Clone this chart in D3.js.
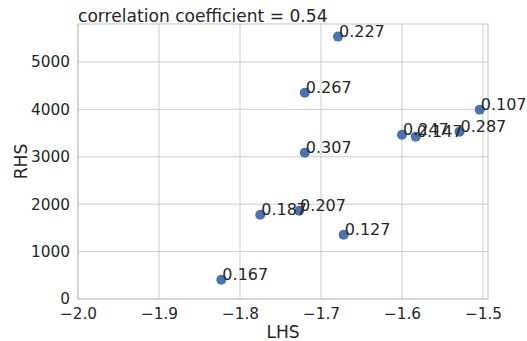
<!DOCTYPE html>
<html><head><meta charset="utf-8">
<script src="https://cdn.jsdelivr.net/npm/d3@7"></script>
<style>body{margin:0;background:#fff}svg{display:block}</style>
</head><body>
<script>
const lhs = [-1.679, -1.720, -1.720, -1.775, -1.727, -1.672, -1.823, -1.600, -1.583, -1.529, -1.504];
const rhs = [5534, 4352, 3087, 1778, 1863, 1356, 407, 3466, 3424, 3530, 3994];
const labels = ["0.227","0.267","0.307","0.187","0.207","0.127","0.167","0.247","0.147","0.287","0.107"];
const xTicks = [-2.0, -1.9, -1.8, -1.7, -1.6, -1.5];
const yTicks = [0, 1000, 2000, 3000, 4000, 5000];
const title = "correlation coefficient = 0.54";

const W = 527, H = 341;
const m = {left: 78, right: 39, top: 24, bottom: 42};
const svg = d3.select("body").append("svg").attr("width", W).attr("height", H);
const font = "DejaVu Sans";
const tc = "#262626";

const x = d3.scaleLinear().domain([-2.0, -1.4938]).range([m.left, W - m.right]);
const y = d3.scaleLinear().domain([0, 5800]).range([H - m.bottom, m.top]);

const g = svg.append("g");
// grid
g.selectAll(".gx").data(xTicks).join("line")
  .attr("x1", d => x(d)).attr("x2", d => x(d))
  .attr("y1", m.top).attr("y2", H - m.bottom)
  .attr("stroke", "#cccccc").attr("stroke-width", 1);
g.selectAll(".gy").data(yTicks).join("line")
  .attr("y1", d => y(d)).attr("y2", d => y(d))
  .attr("x1", m.left).attr("x2", W - m.right)
  .attr("stroke", "#cccccc").attr("stroke-width", 1);
// frame
g.append("rect").attr("x", m.left).attr("y", m.top)
  .attr("width", W - m.left - m.right).attr("height", H - m.top - m.bottom)
  .attr("fill", "none").attr("stroke", "#cccccc").attr("stroke-width", 1.2);

// axes
const xAxis = d3.axisBottom(x).tickValues(xTicks).tickSize(0).tickPadding(9)
  .tickFormat(d => d3.format(".1f")(d).replace("-", "\u2212"));
const ax = svg.append("g").attr("transform", `translate(0,${H - m.bottom})`).call(xAxis);
ax.select(".domain").remove();
ax.selectAll("text").attr("font-family", font).attr("font-size", 15.3).attr("fill", tc);

const yAxis = d3.axisLeft(y).tickValues(yTicks).tickSize(0).tickPadding(8).tickFormat(d3.format("d"));
const ay = svg.append("g").attr("transform", `translate(${m.left},0)`).call(yAxis);
ay.select(".domain").remove();
ay.selectAll("text").attr("font-family", font).attr("font-size", 15.3).attr("fill", tc);

// points
const data = lhs.map((v, i) => ({x: v, y: rhs[i], l: labels[i]}));
svg.selectAll(".pt").data(data).join("circle")
  .attr("cx", d => x(d.x)).attr("cy", d => y(d.y)).attr("r", 5)
  .attr("fill", "#4c72b0");
svg.selectAll(".lb").data(data).join("text")
  .attr("x", d => x(d.x) + 1).attr("y", d => y(d.y))
  .attr("font-family", font).attr("font-size", 16).attr("fill", tc)
  .text(d => d.l);

// labels
svg.append("text").attr("x", m.left).attr("y", 22)
  .attr("font-family", font).attr("font-size", 17.1).attr("fill", tc).text(title);
svg.append("text").attr("x", (m.left + W - m.right) / 2).attr("y", 337.5)
  .attr("text-anchor", "middle").attr("font-family", font).attr("font-size", 17.1).attr("fill", tc).text("LHS");
svg.append("text").attr("transform", `translate(26.5,${(m.top + H - m.bottom) / 2}) rotate(-90)`)
  .attr("text-anchor", "middle").attr("font-family", font).attr("font-size", 17.1).attr("fill", tc).text("RHS");
</script>
</body></html>
